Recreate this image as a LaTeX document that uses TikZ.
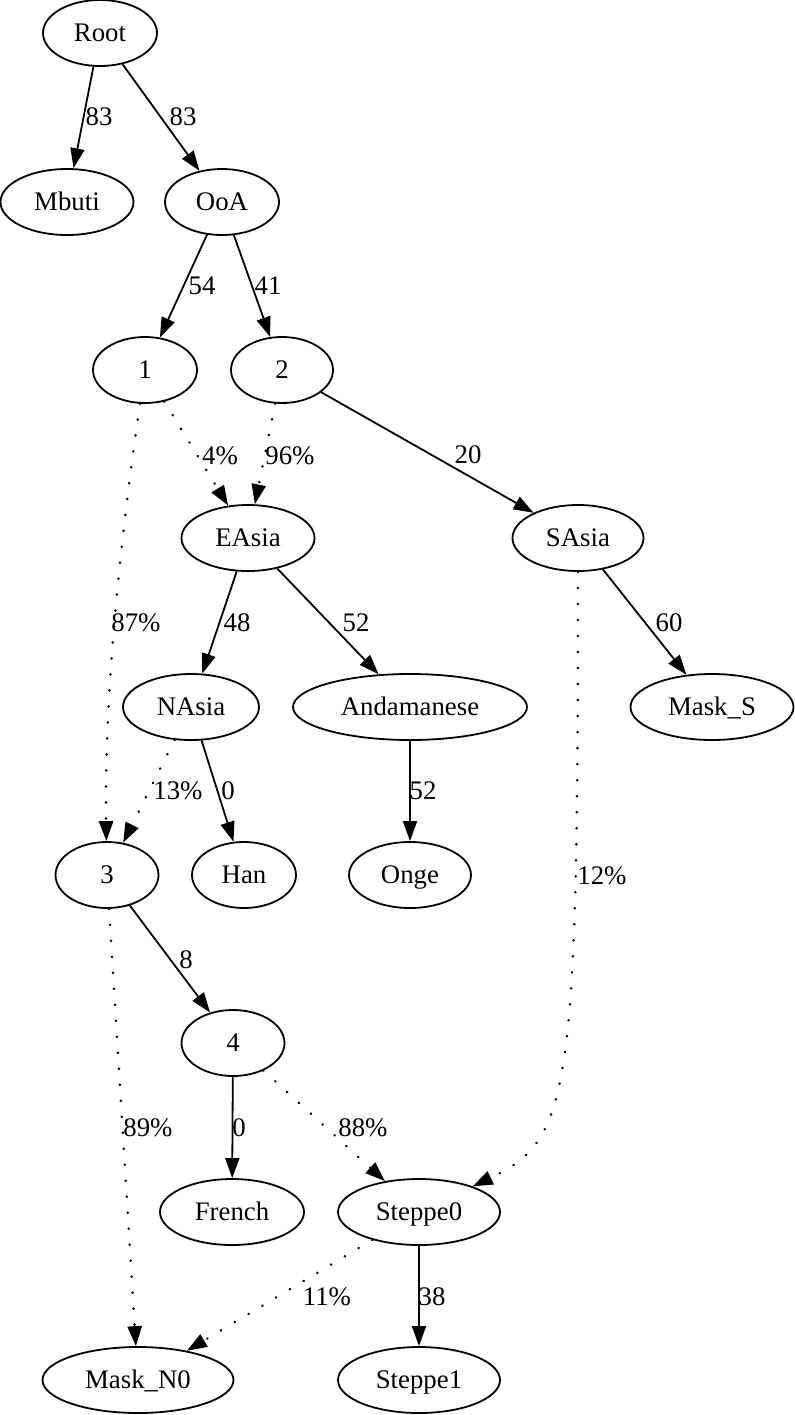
\documentclass[tikz,border=0pt]{standalone}
\usepackage{fontspec}
\setmainfont{Liberation Serif}
\usetikzlibrary{arrows.meta,shapes.geometric}

\begin{document}
\begin{tikzpicture}[x=0.5pt,y=-0.5pt,>={Triangle[length=10pt,width=7pt]},font=\fontsize{13.4}{15}\selectfont,line width=0.9pt,
  pop/.style={draw,ellipse,inner sep=0pt,minimum height=33pt,minimum width=#1,text height=11pt,text depth=2.2pt},
  lbl/.style={inner sep=0pt,text height=11pt,text depth=2.2pt},
  mix/.style={->,line width=1.4pt,dash pattern=on 0.01pt off 8pt,line cap=round}]
\useasboundingbox (0,0) rectangle (795,1415);
% populations
\node[pop=57pt] (root) at (100,33) {Root};
\node[pop=66.5pt] (mbuti) at (67,202) {Mbuti};
\node[pop=57pt] (ooa) at (222,202) {OoA};
\node[pop=52pt] (n1) at (145,370) {1};
\node[pop=51pt] (n2) at (282,370) {2};
\node[pop=66.5pt] (easia) at (248,538) {EAsia};
\node[pop=65.5pt] (sasia) at (578,538) {SAsia};
\node[pop=68pt] (nasia) at (191,707) {NAsia};
\node[pop=117pt] (andam) at (410,707) {Andamanese};
\node[pop=81.5pt] (masks) at (712,707) {Mask\_S};
\node[pop=51.5pt] (n3) at (107,875) {3};
\node[pop=52pt] (han) at (244,875) {Han};
\node[pop=61pt] (onge) at (410,875) {Onge};
\node[pop=51.5pt] (n4) at (233,1043) {4};
\node[pop=72pt] (french) at (232,1212) {French};
\node[pop=81pt] (steppe0) at (419,1212) {Steppe0};
\node[pop=95.5pt] (maskn0) at (138,1380) {Mask\_N0};
\node[pop=81pt] (steppe1) at (419,1380) {Steppe1};
% drift edges
\draw[->] (root) -- (mbuti);
\draw[->] (root) -- (ooa);
\draw[->] (ooa) -- (n1);
\draw[->] (ooa) -- (n2);
\draw[->] (n2) -- (sasia);
\draw[->] (easia) -- (nasia);
\draw[->] (easia) -- (andam);
\draw[->] (sasia) -- (masks);
\draw[->] (nasia) -- (han);
\draw[->] (andam) -- (onge);
\draw[->] (n3) -- (n4);
\draw[->] (n4) -- (french);
\draw[->] (steppe0) -- (steppe1);
% admixture edges
\draw[mix] (n1) -- (easia);
\draw[mix] (n2) -- (easia);
\draw[mix] (n1) .. controls (120,540) and (104,700) .. (n3);
\draw[mix] (nasia) -- (n3);
\draw[mix] (sasia) .. controls (578,1100) and (570,1140) .. (steppe0);
\draw[mix] (n3) -- (maskn0);
\draw[mix] (n4) -- (steppe0);
\draw[mix] (steppe0) -- (maskn0);
% edge labels
\node[lbl] (l1) at (99,117) {83};
\node[lbl] (l2) at (183,117) {83};
\node[lbl] (l3) at (202,286) {54};
\node[lbl] (l4) at (268,286) {41};
\node[lbl] (l5) at (220,456) {4\%};
\node[lbl] (l6) at (290,456) {96\%};
\node[lbl] (l7) at (468,455) {20};
\node[lbl] (l8) at (136,623) {87\%};
\node[lbl] (l9) at (237,623) {48};
\node[lbl] (l10) at (356,623) {52};
\node[lbl] (l11) at (669,623) {60};
\node[lbl] (l12) at (178,791) {13\%};
\node[lbl] (l13) at (228,791) {0};
\node[lbl] (l14) at (423,791) {52};
\node[lbl] (l15) at (602,876) {12\%};
\node[lbl] (l16) at (186,960) {8};
\node[lbl] (l17) at (148,1128) {89\%};
\node[lbl] (l18) at (239,1128) {0};
\node[lbl] (l19) at (363,1128) {88\%};
\node[lbl] (l20) at (327,1297) {11\%};
\node[lbl] (l21) at (432,1297) {38};
\end{tikzpicture}
\end{document}
